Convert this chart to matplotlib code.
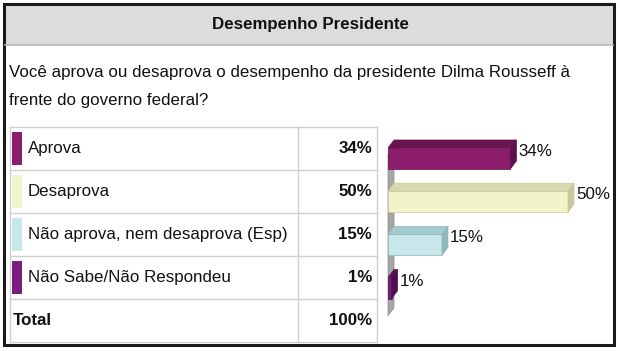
import matplotlib
matplotlib.use("Agg")
import matplotlib.pyplot as plt
from matplotlib import font_manager
from matplotlib.patches import Rectangle, Polygon

# fonte condensada, parecida com Arial Narrow
nomes = {f.name for f in font_manager.fontManager.ttflist}
if 'Liberation Sans Narrow' in nomes:
    plt.rcParams['font.family'] = ['Liberation Sans Narrow', 'DejaVu Sans']
    fs = 14.9
else:
    plt.rcParams['font.family'] = ['Liberation Sans', 'DejaVu Sans']
    fs = 12.2

# dados da pesquisa
titulo = 'Desempenho Presidente'
pergunta = ['Você aprova ou desaprova o desempenho da presidente Dilma Rousseff à',
            'frente do governo federal?']
categorias = ['Aprova', 'Desaprova', 'Não aprova, nem desaprova (Esp)', 'Não Sabe/Não Respondeu']
valores = [34, 50, 15, 1]
total_label = 'Total'
total_valor = 100

cores_frente = ['#8C1D6C', '#F3F3C9', '#C7E7EB', '#7A1C80']
cores_topo = ['#6A1451', '#DADAB0', '#A2CBD0', '#5C125F']
cores_lado = ['#5E1048', '#C9C99E', '#8FB9BE', '#4E0E52']

W, H = 620, 351
fig = plt.figure(figsize=(W / 100, H / 100), dpi=100)

# eixo de layout em pixels
ax0 = fig.add_axes([0, 0, 1, 1])
ax0.set_xlim(0, W)
ax0.set_ylim(H, 0)
ax0.axis('off')

# faixa do titulo
ax0.add_patch(Rectangle((5, 5), 608, 40, facecolor='#DCDCDC', edgecolor='none'))
ax0.plot([5, 613], [45, 45], color='#B8B8B8', lw=1.2)
ax0.text(310, 25, titulo, ha='center', va='center', fontsize=fs, fontweight='bold', color='#111111')

# pergunta
ax0.text(9, 73, pergunta[0], ha='left', va='center', fontsize=fs, color='#111111')
ax0.text(9, 100, pergunta[1], ha='left', va='center', fontsize=fs, color='#111111')

# tabela
linhas_y = [127, 170, 213, 256, 299, 342]
grid = '#CFCFCF'
for y in linhas_y:
    ax0.plot([10, 377], [y, y], color=grid, lw=1)
for x in [10, 298, 377]:
    ax0.plot([x, x], [linhas_y[0], linhas_y[-1]], color=grid, lw=1)

for i, (cat, val) in enumerate(zip(categorias, valores)):
    y0, y1 = linhas_y[i], linhas_y[i + 1]
    yc = (y0 + y1) / 2
    ax0.add_patch(Rectangle((12, y0 + 5), 10, (y1 - y0) - 10, facecolor=cores_frente[i], edgecolor='none'))
    ax0.text(28, yc, cat, ha='left', va='center', fontsize=fs, color='#111111')
    ax0.text(372, yc, f'{val}%', ha='right', va='center', fontsize=fs, fontweight='bold', color='#111111')

yc = (linhas_y[4] + linhas_y[5]) / 2
ax0.text(13, yc, total_label, ha='left', va='center', fontsize=fs, fontweight='bold', color='#111111')
ax0.text(372, yc, f'{total_valor}%', ha='right', va='center', fontsize=fs, fontweight='bold', color='#111111')

# borda externa
ax0.add_patch(Rectangle((4, 4), 610, 341, facecolor='none', edgecolor='#1A1A1A', lw=2.2))

# grafico de barras 3D
px_por_pct = 3.6
row_px = 43.2
x0_px = 388
top_px = 158.5 - row_px / 2
axw = W - x0_px
ax1 = fig.add_axes([x0_px / W, (H - (top_px + 4 * row_px)) / H, axw / W, 4 * row_px / H])
ax1.set_xlim(0, axw / px_por_pct)
ax1.set_ylim(len(valores) - 0.5, -0.5)
ax1.axis('off')
ax1.patch.set_alpha(0)

dx = 6 / px_por_pct       # profundidade em x (dados)
dy = -8 / row_px          # profundidade em y (dados, invertido)
alt = 21 / row_px

# parede do eixo
yb = len(valores) - 0.5 + 6 / row_px
yt = -0.5 + 17 / row_px
ax1.add_patch(Polygon([(0, yb), (0, yt), (dx, yt + dy), (dx, yb + dy)],
                      closed=True, facecolor='#A6A6A6', edgecolor='#8A8A8A', lw=0.5, clip_on=False))

pos = list(range(len(valores)))
ax1.barh(pos, valores, height=alt, color=cores_frente, edgecolor=cores_lado, lw=0.5, zorder=3)
for i, v in enumerate(valores):
    ytop = i - alt / 2
    ybot = i + alt / 2
    ax1.add_patch(Polygon([(0, ytop), (v, ytop), (v + dx, ytop + dy), (dx, ytop + dy)],
                          closed=True, facecolor=cores_topo[i], edgecolor=cores_lado[i], lw=0.5,
                          zorder=3, clip_on=False))
    ax1.add_patch(Polygon([(v, ytop), (v, ybot), (v + dx, ybot + dy), (v + dx, ytop + dy)],
                          closed=True, facecolor=cores_lado[i], edgecolor=cores_lado[i], lw=0.5,
                          zorder=3, clip_on=False))
    ax1.text(v + dx + 0.6, i - 0.16, f'{v}%', ha='left', va='center', fontsize=fs, color='#111111',
             clip_on=False)

fig.savefig('out.png', dpi=100)
